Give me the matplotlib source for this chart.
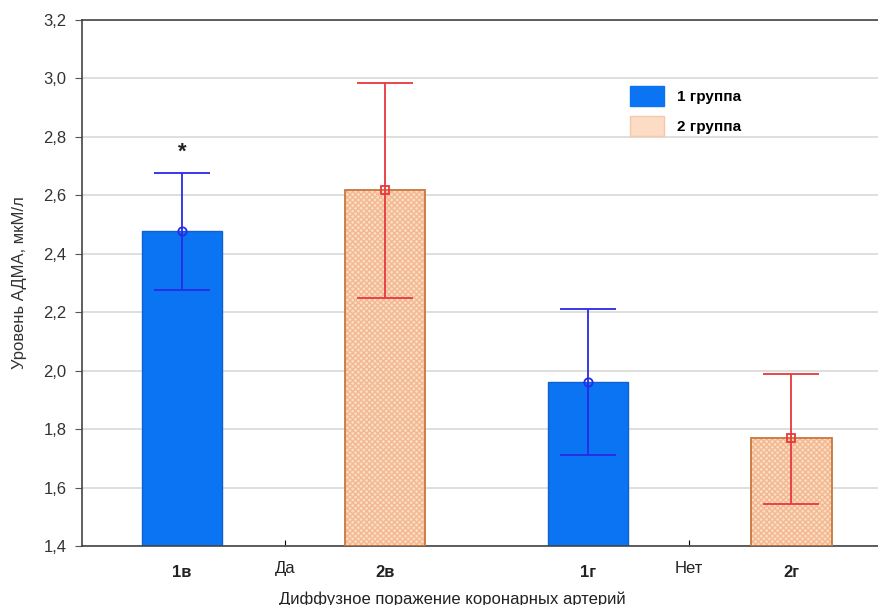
import matplotlib
matplotlib.use("Agg")
import matplotlib.pyplot as plt
from matplotlib.ticker import FuncFormatter
from matplotlib.patches import Patch

plt.rcParams['font.family'] = ['Liberation Sans', 'DejaVu Sans']

categories = ['1в', '2в', '1г', '2г']
groups = ['1 группа', '2 группа', '1 группа', '2 группа']
means = [2.477, 2.617, 1.96, 1.769]
upper = [2.677, 2.985, 2.212, 1.99]
lower = [2.277, 2.25, 1.71, 1.543]
group_ticks = ['Да', 'Нет']
yticks = [1.4, 1.6, 1.8, 2.0, 2.2, 2.4, 2.6, 2.8, 3.0, 3.2]

fig = plt.figure(figsize=(8.79, 6.05), dpi=100)
ax = fig.add_axes([82/879, 59/605, 1 - 82/879 + 0.002, (546-20)/605])

pos = list(range(len(categories)))
w = 0.395
blue = '#0a74f2'
peach = '#fcdcc4'

for i, (c, g, m, lo, hi) in enumerate(zip(categories, groups, means, lower, upper)):
    if g == '1 группа':
        ax.bar(pos[i], m - 1.4, bottom=1.4, width=w, color=blue, edgecolor='#1060d0', linewidth=1, zorder=2)
        ecol = '#2a2ae6'
        mk = 'o'
    else:
        ax.bar(pos[i], m - 1.4, bottom=1.4, width=w, color=peach, edgecolor='#f2b890', hatch='xxxxxx', linewidth=0, zorder=2)
        ax.bar(pos[i], m - 1.4, bottom=1.4, width=w, color='none', edgecolor='#c8773c', linewidth=1.3, zorder=3)
        ecol = '#e8383c'
        mk = 's'
    ax.errorbar(pos[i], m, yerr=[[m - lo], [hi - m]], fmt='none', ecolor=ecol, elinewidth=1.3, capsize=20, capthick=1.3, zorder=4)
    ax.plot(pos[i], m, marker=mk, markersize=6, markerfacecolor='none', markeredgecolor=ecol, markeredgewidth=1.3, zorder=5)
    ax.text(pos[i], -0.05, c, transform=ax.get_xaxis_transform(), ha='center', va='center', fontsize=12, fontweight='bold', color='#222222')

# significance asterisk
ax.text(pos[0], upper[0] + 0.07, '*', ha='center', va='center', fontsize=16, fontweight='bold', color='#222222')

ax.set_xlim(-0.493, 3.44)
ax.set_ylim(1.4, 3.2)
ax.set_yticks(yticks)
ax.yaxis.set_major_formatter(FuncFormatter(lambda v, p: f'{v:.1f}'.replace('.', ',')))
ax.tick_params(axis='y', direction='out', length=5, width=0.8, colors='#555555', labelcolor='#333333', labelsize=12, pad=6)
ax.set_xticks([0.508, 2.496])
ax.set_xticklabels(group_ticks)
ax.tick_params(axis='x', direction='in', length=4, width=0.8, labelsize=12, labelcolor='#222222', pad=11)

ax.grid(axis='y', color='#d9d9d9', linewidth=1.2, zorder=0)
ax.set_axisbelow(True)
for s in ['left', 'bottom', 'top']:
    ax.spines[s].set_color('#444444')
    ax.spines[s].set_linewidth(1.2)
ax.spines['right'].set_visible(False)

ax.set_ylabel('Уровень АДМА, мкМ/л', fontsize=12, color='#333333', labelpad=12)
fig.text(452/879, 1 - 599/605, 'Диффузное поражение коронарных артерий', ha='center', va='center', fontsize=12, color='#222222')

handles = [Patch(facecolor=blue, edgecolor=blue), Patch(facecolor=peach, edgecolor='#f4c8a8')]
leg = ax.legend(handles, ['1 группа', '2 группа'], loc='upper left', bbox_to_anchor=(533/797, 1 - 52/526), frameon=False,
                handlelength=2.2, handleheight=1.7, labelspacing=0.6, handletextpad=0.9, prop={'size': 11, 'weight': 'bold'})

fig.savefig('out.png', dpi=100)
